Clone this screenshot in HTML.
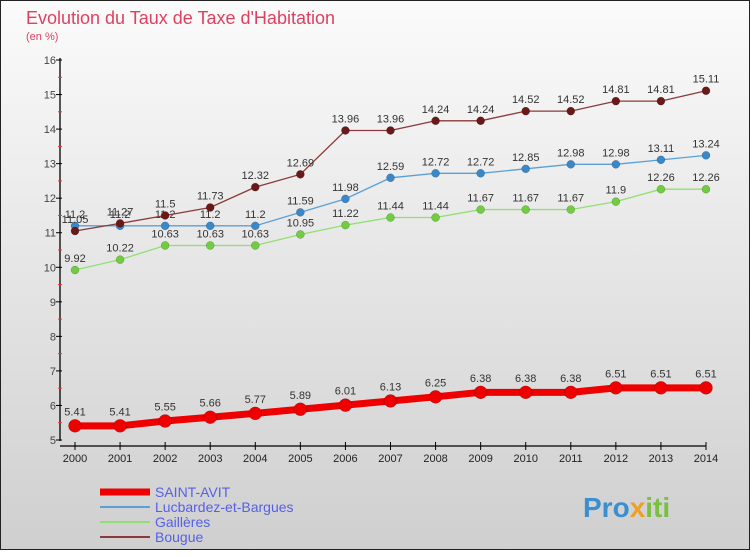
<!DOCTYPE html>
<html><head><meta charset="utf-8"><style>
html,body{margin:0;padding:0}
body{width:750px;height:550px;overflow:hidden;font-family:"Liberation Sans",sans-serif}
svg text{font-family:"Liberation Sans",sans-serif}
</style></head><body>
<svg width="750" height="550">
<defs><linearGradient id="bg" x1="0" y1="0" x2="0" y2="1"><stop offset="0" stop-color="#fbfbfb"/><stop offset="1" stop-color="#cfcfcf"/></linearGradient></defs>
<rect x="0.5" y="0.5" width="749" height="549" fill="url(#bg)" stroke="#222"/>
<text x="26" y="24" font-size="18" fill="#e04060">Evolution du Taux de Taxe d'Habitation</text>
<text x="26" y="40" font-size="11" fill="#e04060">(en %)</text>
<g id="axes"></g>
<g id="series"></g>
<g id="legend"></g>
<text x="583" y="517" font-size="28" font-weight="bold" fill="#3a8fd0">Pro<tspan fill="#f0a020">x</tspan><tspan fill="#7ac040">iti</tspan></text>
</svg>
<script>
const years=[2000,2001,2002,2003,2004,2005,2006,2007,2008,2009,2010,2011,2012,2013,2014];
const yTicks=[5,6,7,8,9,10,11,12,13,14,15,16];
const saintAvit=[5.41,5.41,5.55,5.66,5.77,5.89,6.01,6.13,6.25,6.38,6.38,6.38,6.51,6.51,6.51];
const lucbardez=[11.2,11.2,11.2,11.2,11.2,11.59,11.98,12.59,12.72,12.72,12.85,12.98,12.98,13.11,13.24];
const gailleres=[9.92,10.22,10.63,10.63,10.63,10.95,11.22,11.44,11.44,11.67,11.67,11.67,11.9,12.26,12.26];
const bougue=[11.05,11.27,11.5,11.73,12.32,12.69,13.96,13.96,14.24,14.24,14.52,14.52,14.81,14.81,15.11];
const NS="http://www.w3.org/2000/svg";
const xs=i=>75+i*(706-75)/(years.length-1);
const ys=v=>440-(v-5)*(440-60)/11;
function mk(t,a,p){const e=document.createElementNS(NS,t);for(const k in a)e.setAttribute(k,a[k]);p.appendChild(e);return e;}
const ax=document.getElementById('axes');
let l=mk('line',{x1:60,y1:58,x2:60,y2:441,stroke:'#000','stroke-width':1.3},ax);


l=mk('line',{x1:60,y1:446,x2:706,y2:446,stroke:'#000','stroke-width':1.3},ax);


yTicks.forEach(v=>{
 mk('line',{x1:56,y1:ys(v),x2:62,y2:ys(v),stroke:'#000'},ax);
 if(v<16)mk('line',{x1:58,y1:ys(v+0.5),x2:62,y2:ys(v+0.5),stroke:'#e33'},ax);
 const t=mk('text',{x:56,y:ys(v)+4,'font-size':11,'text-anchor':'end',fill:'#444'},ax);t.textContent=v;
 
 
});
years.forEach((y,i)=>{
 mk('line',{x1:xs(i),y1:442,x2:xs(i),y2:450,stroke:'#000'},ax);
 const t=mk('text',{x:xs(i),y:462,'font-size':11,'text-anchor':'middle',fill:'#222'},ax);t.textContent=y;
 
 
});
const sg=document.getElementById('series');
function draw(vals,color,dot,w,r,name){
 const g=mk('g',{},sg);
 
 
 mk('polyline',{points:vals.map((v,i)=>xs(i)+','+ys(v)).join(' '),fill:'none',stroke:color,'stroke-width':w},g);
 vals.forEach((v,i)=>{
  const c=mk('circle',{cx:xs(i),cy:ys(v),r:r,fill:dot,stroke:'rgba(0,0,0,0.3)','stroke-width':0.5},g);
  
  
  const t=mk('text',{x:xs(i),y:ys(v)-r-4,'font-size':11,'text-anchor':'middle',fill:'#333'},g);t.textContent=v;
 });
}
draw(gailleres,'#90e070','#70cc40',1.3,4,'series-gailleres');
draw(lucbardez,'#5aa0d8','#3a88c8',1.3,4,'series-lucbardez');
draw(bougue,'#8a3a3a','#6a1818',1.3,4,'series-bougue');
draw(saintAvit,'#ee0000','#ee0000',7,6.5,'series-saint-avit');
const lg=document.getElementById('legend');
[['SAINT-AVIT','#ee0000',7],['Lucbardez-et-Bargues','#5aa0d8',2],['Gaillères','#90e070',2],['Bougue','#8a3a3a',2]].forEach((d,i)=>{
 const y=492+i*15;
 const g=mk('g',{},lg);
 
 
 mk('line',{x1:100,y1:y,x2:150,y2:y,stroke:d[1],'stroke-width':d[2]},g);
 const t=mk('text',{x:155,y:y+5,'font-size':14,fill:'#5560e8'},g);t.textContent=d[0];
});
</script>
</body></html>
